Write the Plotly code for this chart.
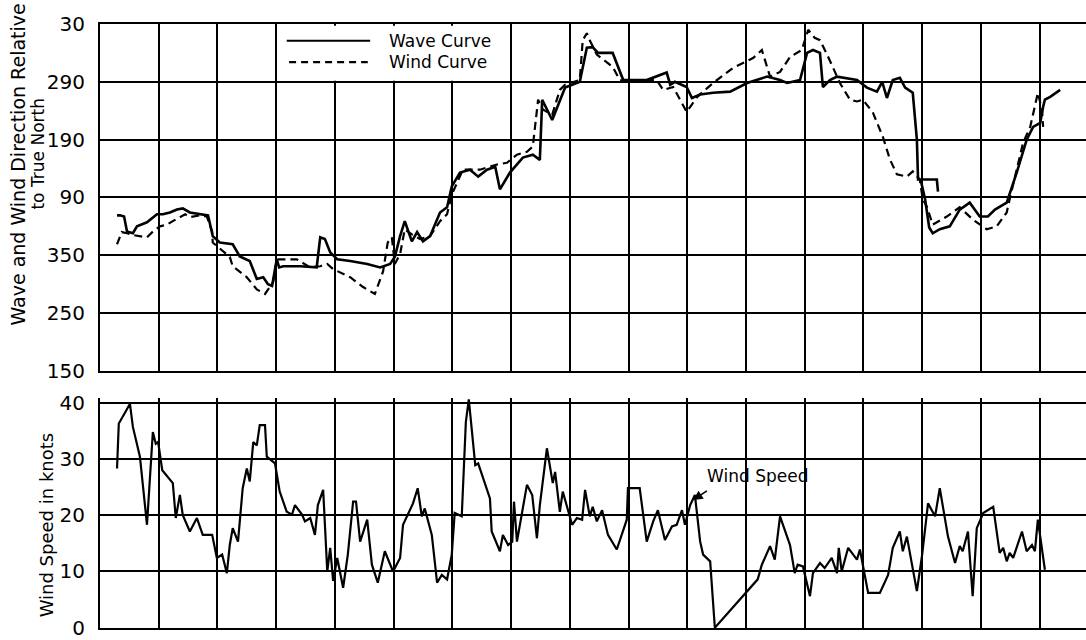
import plotly.graph_objects as go

# ---- data (time in chart grid intervals; direction unwrapped: 360 added past north) ----
wave_t = [0.29, 0.34, 0.41, 0.46, 0.56, 0.63, 0.80, 0.97, 1.07, 1.19, 1.31, 1.41, 1.53, 1.70,
          1.84, 1.92, 2.04, 2.26, 2.38, 2.55, 2.67, 2.78, 2.86, 2.93, 3.01, 3.05, 3.12, 3.41,
          3.69, 3.75, 3.83, 3.92, 4.04, 4.26, 4.55, 4.77, 4.94, 5.02, 5.11, 5.19, 5.31, 5.40,
          5.50, 5.62, 5.79, 5.91, 5.99, 6.13, 6.30, 6.44, 6.59, 6.73, 6.81, 6.98, 7.20, 7.37,
          7.49, 7.53, 7.70, 7.92, 8.17, 8.29, 8.39, 8.48, 8.73, 8.91, 9.31, 9.65, 9.71, 9.79,
          9.99, 10.08, 10.22, 10.44, 10.73, 11.02, 11.36, 11.58, 11.70, 11.92, 12.04, 12.14,
          12.26, 12.31, 12.43, 12.55, 12.89, 13.06, 13.23, 13.32, 13.40, 13.50, 13.62, 13.71,
          13.84, 13.91, 13.93, 14.25, 14.27, None,
          13.98, 14.05, 14.12, 14.18, 14.30, 14.47, 14.64, 14.81, 14.98, 15.12, 15.24, 15.44,
          15.61, 15.78, 15.89, 16.01, 16.06, 16.09, 16.18, 16.35]
wave_dir = [419, 419, 417, 391, 388, 400, 407, 421, 421, 424, 429, 431, 424, 421,
            419, 383, 372, 369, 348, 340, 309, 312, 300, 297, 343, 329, 331, 331,
            329, 381, 378, 355, 343, 340, 335, 329, 335, 347, 383, 409, 374, 390,
            374, 383, 424, 433, 469, 493, 498, 486, 498, 503, 464, 493, 519, 524,
            515, 619, 584, 640, 650, 709, 710, 700, 700, 653, 653, 666, 645, 650,
            641, 622, 628, 631, 633, 648, 659, 653, 648, 653, 700, 705,
            700, 641, 653, 659, 653, 640, 633, 650, 622, 653, 657, 640,
            631, 550, 481, 481, 460, None,
            478, 447, 398, 388, 395, 400, 429, 441, 417, 417, 429, 441,
            493, 550, 572, 579, 607, 619, 624, 636]

wind_t = [0.29, 0.37, 0.46, 0.56, 0.80, 0.90, 1.02, 1.14, 1.24, 1.36, 1.45, 1.53, 1.70, 1.82,
          1.91, 1.92, 2.21, 2.26, 2.50, 2.67, 2.81, 2.95, 3.01, 3.18, 3.35, 3.58, 3.75, 3.87,
          3.97, 4.26, 4.48, 4.68, 4.82, 4.90, 4.97, 5.02, 5.11, 5.19, 5.31, 5.45, 5.62, 5.79,
          5.91, 5.99, 6.10, 6.18, 6.47, 6.76, 6.93, 7.10, 7.27, 7.37, 7.46, 7.54, 7.70, 7.83,
          7.92, 8.17, 8.22, 8.29, 8.34, 8.46, 8.73, 8.85, 8.97, 9.31, 9.48, 9.59, 9.76, 9.99,
          10.17, 10.44, 10.78, 11.12, 11.27, 11.41, 11.58, 11.75, 11.95, 12.06, 12.17, 12.26,
          12.40, 12.60, 12.77, 12.89, 12.99, 13.16, 13.33, 13.45, 13.57, 13.74, 13.84, 13.96,
          14.01, 14.08, 14.18, 14.42, 14.64, 14.86, 15.10, 15.27, 15.44, 15.49, 15.72, 15.84,
          15.97, 16.04, 16.06]
wind_dir = [369, 390, 388, 385, 381, 391, 400, 403, 409, 416, 421, 416, 419, 417,
            391, 372, 347, 331, 312, 291, 283, 304, 343, 343, 343, 329, 331, 335,
            326, 312, 295, 283, 322, 372, 381, 335, 352, 395, 386, 378, 383, 409,
            421, 455, 481, 498, 498, 507, 510, 524, 529, 538, 619, 602, 593, 636,
            645, 653, 722, 734, 722, 697, 676, 653, 650, 653, 653, 636, 641, 598,
            624, 648, 674, 691, 705, 659, 667, 693, 705, 740, 726, 722,
            693, 648, 619, 616, 619, 597, 555, 516, 490, 486, 495, 481,
            447, 434, 403, 417, 433, 412, 395, 400, 424, 447, 545, 572,
            631, 602, 572]

speed_t = [0.29, 0.32, 0.43, 0.51, 0.56, 0.68, 0.80, 0.90, 0.95, 0.99, 1.06, 1.24, 1.29, 1.36,
           1.41, 1.53, 1.65, 1.75, 1.91, 1.99, 2.08, 2.16, 2.21, 2.26, 2.35, 2.43, 2.50, 2.55,
           2.61, 2.67, 2.72, 2.81, 2.84, 2.98, 3.06, 3.18, 3.27, 3.32, 3.44, 3.49, 3.58, 3.66,
           3.71, 3.80, 3.87, 3.92, 3.97, 4.04, 4.14, 4.22, 4.31, 4.36, 4.43, 4.55, 4.63, 4.73,
           4.85, 4.99, 5.11, 5.16, 5.33, 5.41, 5.48, 5.53, 5.65, 5.74, 5.82, 5.91, 5.99, 6.04,
           6.16, 6.23, 6.28, 6.39, 6.44, 6.64, 6.67, 6.81, 6.86, 6.95, 7.02, 7.05, 7.10, 7.27,
           7.36, 7.44, 7.49, 7.61, 7.71, 7.75, 7.83, 7.88, 8.04, 8.12, 8.21, 8.26, 8.34, 8.39,
           8.46, 8.55, 8.65, 8.72, 8.80, 8.97, 8.99, 9.19, 9.31, 9.42, 9.50, 9.62, 9.74, 9.82,
           9.91, 9.96, 10.05, 10.13, 10.22, 10.27, 10.39, 10.47, 11.20, 11.27, 11.41, 11.49,
           11.58, 11.75, 11.83, 11.88, 11.97, 12.09, 12.14, 12.26, 12.34, 12.46, 12.55, 12.58,
           12.63, 12.74, 12.89, 12.94, 13.08, 13.28, 13.42, 13.50, 13.62, 13.67, 13.74, 13.91,
           14.00, 14.10, 14.22, 14.30, 14.44, 14.56, 14.64, 14.69, 14.78, 14.86, 14.93, 15.04,
           15.21, 15.32, 15.38, 15.44, 15.49, 15.55, 15.70, 15.78, 15.87, 15.92, 15.97, 16.09]
speed_kn = [28.3, 36.3, 38.3, 39.8, 35.7, 30.4, 18.3, 34.8, 32.7, 33.0, 28.0, 25.7, 19.5, 23.6,
            20.0, 17.1, 19.5, 16.5, 16.5, 12.4, 13.0, 9.7, 14.7, 17.7, 15.3, 24.8, 28.3, 26.0,
            33.0, 32.4, 36.0, 36.0, 30.4, 29.2, 24.2, 20.6, 20.1, 21.8, 20.1, 18.9, 19.5, 16.5,
            21.8, 24.5, 10.0, 14.2, 8.3, 12.4, 7.1, 13.0, 22.4, 22.4, 15.3, 19.2, 11.2, 8.0,
            13.6, 10.0, 12.4, 18.3, 22.1, 24.8, 19.8, 21.2, 16.5, 8.0, 9.4, 8.6, 13.0, 20.4,
            19.8, 36.6, 40.6, 28.9, 29.2, 23.0, 17.1, 13.6, 16.5, 14.7, 15.3, 22.4, 15.3, 25.4,
            23.6, 15.9, 21.8, 31.9, 25.7, 27.7, 20.6, 24.2, 18.3, 19.5, 19.2, 24.5, 19.8, 21.5,
            18.9, 20.9, 16.5, 15.3, 13.9, 19.2, 24.8, 24.8, 15.3, 18.9, 20.9, 15.6, 18.0, 18.3,
            20.9, 18.3, 21.8, 23.6, 15.3, 13.0, 11.8, 0.0, 8.6, 11.2, 14.5, 12.1,
            19.8, 14.7, 9.7, 11.2, 10.9, 5.6, 9.7, 11.5, 10.6, 12.4, 9.7, 14.2,
            10.0, 14.2, 12.1, 13.9, 6.2, 6.2, 9.4, 14.2, 17.1, 13.6, 16.2, 6.5,
            13.0, 22.1, 19.8, 24.8, 16.2, 11.5, 14.5, 13.6, 17.1, 5.6, 17.7, 20.4,
            21.5, 13.3, 14.2, 11.8, 13.3, 12.4, 17.1, 13.6, 14.7, 13.6, 19.2, 10.3]

dir_tickvals = [150, 250, 350, 450, 550, 650, 750]
dir_ticktext = ["150", "250", "350", "90", "190", "290", "30"]
speed_tickvals = [0, 10, 20, 30, 40]

FONT = "DejaVu Sans"
X_MAX = 16.79

fig = go.Figure()
fig.add_trace(go.Scatter(x=wave_t, y=wave_dir, mode="lines", name="Wave Curve",
                         line=dict(color="black", width=2.6), connectgaps=False,
                         xaxis="x", yaxis="y"))
fig.add_trace(go.Scatter(x=wind_t, y=wind_dir, mode="lines", name="Wind Curve",
                         line=dict(color="black", width=2.2, dash="8px,5px"),
                         xaxis="x", yaxis="y"))
fig.add_trace(go.Scatter(x=speed_t, y=speed_kn, mode="lines", name="Wind Speed",
                         line=dict(color="black", width=2.2),
                         xaxis="x2", yaxis="y2"))

grid = dict(showgrid=True, gridcolor="black", gridwidth=2, zeroline=False)

fig.update_layout(
    width=1086, height=640,
    margin=dict(l=100, r=0, t=24, b=10),
    paper_bgcolor="white", plot_bgcolor="white",
    showlegend=False,
    font=dict(family=FONT, color="black"),
    xaxis=dict(domain=[0, 1], range=[0, X_MAX], tick0=0, dtick=1, showticklabels=False,
               ticks="", showline=True, linecolor="black", linewidth=2, mirror=True,
               anchor="y", **grid),
    yaxis=dict(domain=[0.4257, 1], range=[150, 750], tickvals=dir_tickvals,
               ticktext=dir_ticktext, ticks="", ticklabelstandoff=9,
               tickfont=dict(size=20, family=FONT, color="black"),
               showline=True, linecolor="black", linewidth=2, anchor="x", **grid),
    xaxis2=dict(domain=[0, 1], range=[0, X_MAX], tick0=0, dtick=1, showticklabels=False,
                ticks="", showline=True, linecolor="black", linewidth=2, mirror=False,
                anchor="y2", **grid),
    yaxis2=dict(domain=[0, 0.3814], range=[-0.05, 40.9], tickvals=speed_tickvals,
                ticks="", ticklabelstandoff=9,
                tickfont=dict(size=20, family=FONT, color="black"),
                showline=True, linecolor="black", linewidth=2, anchor="x2", **grid),
)

# legend box (custom, as in the original drawing)
fig.add_shape(type="rect", xref="x", yref="y", x0=3.06, x1=6.90, y0=652, y1=747,
              fillcolor="white", line=dict(width=0), layer="above")
fig.add_shape(type="line", xref="x", yref="y", x0=3.18, x1=4.60, y0=721, y1=721,
              line=dict(color="black", width=2.2), layer="above")
fig.add_shape(type="line", xref="x", yref="y", x0=3.22, x1=4.56, y0=684, y1=684,
              line=dict(color="black", width=2.2, dash="7px,5px"), layer="above")
fig.add_annotation(xref="x", yref="y", x=4.89, y=721, text="Wave Curve", showarrow=False,
                   xanchor="left", yanchor="middle", font=dict(size=17, family=FONT))
fig.add_annotation(xref="x", yref="y", x=4.89, y=684, text="Wind Curve", showarrow=False,
                   xanchor="left", yanchor="middle", font=dict(size=17, family=FONT))

# wind speed label with arrow
fig.add_annotation(xref="x2", yref="y2", x=10.30, y=26.9, text="Wind Speed", showarrow=False,
                   xanchor="left", yanchor="middle", font=dict(size=17, family=FONT))
fig.add_annotation(xref="x2", yref="y2", x=10.10, y=22.7, ax=10.36, ay=24.5,
                   axref="x2", ayref="y2", text="", showarrow=True, arrowhead=2,
                   arrowsize=1.2, arrowwidth=1.6, arrowcolor="black")

# axis titles
fig.add_annotation(xref="paper", yref="paper", x=(18 - 100) / 986, y=(630 - 165) / 606,
                   text="Wave and Wind Direction Relative", textangle=-90, showarrow=False,
                   xanchor="center", yanchor="middle", font=dict(size=19, family=FONT))
fig.add_annotation(xref="paper", yref="paper", x=(38 - 100) / 986, y=(630 - 154) / 606,
                   text="to True North", textangle=-90, showarrow=False,
                   xanchor="center", yanchor="middle", font=dict(size=17, family=FONT))
fig.add_annotation(xref="paper", yref="paper", x=(46 - 100) / 986, y=(630 - 527) / 606,
                   text="Wind Speed in knots", textangle=-90, showarrow=False,
                   xanchor="center", yanchor="middle", font=dict(size=18, family=FONT))

fig.write_html("out.html", config={"displayModeBar": False},
               post_script="document.body.style.margin='0';document.body.style.overflow='hidden';")
